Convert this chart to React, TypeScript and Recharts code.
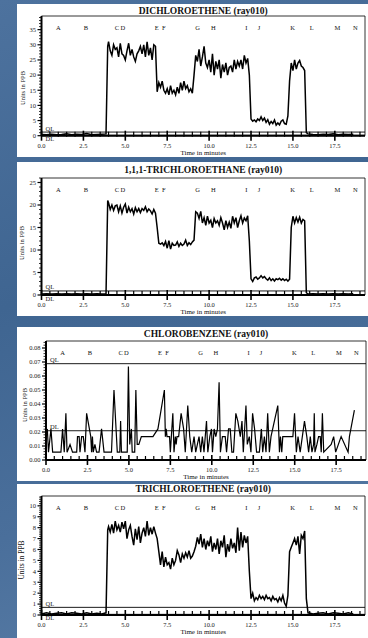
import { LineChart, Line, XAxis, YAxis, ReferenceLine, ReferenceArea } from 'recharts';

const serif = '"Liberation Serif", "DejaVu Serif", serif';

// shared scan times (minutes) for the three continuous traces
const scanTimes = [
  0, 0.3, 0.6, 0.9, 1.2, 1.5, 1.8, 2.1, 2.4, 2.7, 3.0, 3.3, 3.6, 3.85,
  3.95, 4.0, 4.1, 4.2, 4.3, 4.4, 4.5, 4.6, 4.7, 4.8, 4.9,
  5.0, 5.1, 5.2, 5.3, 5.4, 5.5, 5.6, 5.7, 5.8, 5.9,
  6.0, 6.1, 6.2, 6.3, 6.4, 6.5, 6.6, 6.7, 6.8, 6.9,
  7.0, 7.1, 7.2, 7.3, 7.4, 7.5, 7.6, 7.7, 7.8, 7.9,
  8.0, 8.1, 8.2, 8.3, 8.4, 8.5, 8.6, 8.7, 8.8, 8.9,
  9.0, 9.1, 9.2, 9.3, 9.4, 9.5, 9.6, 9.7, 9.8, 9.9,
  10.0, 10.1, 10.2, 10.3, 10.4, 10.5, 10.6, 10.7, 10.8, 10.9,
  11.0, 11.1, 11.2, 11.3, 11.4, 11.5, 11.6, 11.7, 11.8, 11.9,
  12.0, 12.1, 12.2, 12.3, 12.4, 12.5, 12.6, 12.7, 12.8, 12.9,
  13.0, 13.1, 13.2, 13.3, 13.4, 13.5, 13.6, 13.7, 13.8, 13.9,
  14.0, 14.1, 14.2, 14.3, 14.4, 14.5, 14.6, 14.7, 14.8, 14.9,
  15.0, 15.1, 15.2, 15.3, 15.4, 15.5, 15.6, 15.7, 15.8,
  15.9, 16.2, 16.5, 16.8, 17.1, 17.4, 17.7, 18.0, 18.3, 18.6,
];

const dceValues = [
  0.4, 0.3, 0.5, 0.3, 0.4, 0.6, 0.3, 0.5, 0.4, 0.7, 0.3, 0.4, 0.5, 0.6,
  29.5, 31, 28, 26.5, 30, 28.5, 29, 26, 30.5, 27, 26.5,
  25, 28, 30.5, 26.5, 28.5, 26, 24.5, 27, 28, 29.5,
  27, 30, 26, 31, 26.5, 29, 25, 30, 29.5, 14.5,
  17.5, 16, 18, 15, 14, 15.5, 13.5, 16.5, 14, 15,
  13.5, 16, 14, 17.5, 15, 18, 15.5, 16.5, 14.5, 15.5,
  14, 20, 26.5, 24.5, 28.5, 23, 26, 29.5, 24, 22.5,
  25, 21, 27, 20, 24.5, 22, 25, 19, 23.5, 21,
  24, 20, 22.5, 23, 21, 25, 22, 24.5, 23, 25,
  22, 26.5, 24, 25.5, 20, 5.5, 4.8, 5.2, 4.6, 5.5,
  5, 6.2, 5, 5.8, 4.4, 5.3, 3.8, 4.7, 4, 5.2,
  3.5, 4.2, 3.6, 4.8, 5.2, 4, 3.8, 6.5, 18, 24,
  21.5, 25, 22, 24, 24.8, 23, 22.5, 21.5, 1.0,
  0.6, 0.4, 0.3, 0.5, 0.4, 0.6, 0.3, 0.5, 0.4, 0.5,
];

const tcaValues = [
  0.2, 0.3, 0.2, 0.3, 0.2, 0.3, 0.2, 0.3, 0.2, 0.3, 0.2, 0.3, 0.2, 0.3,
  21, 20.5, 19, 20, 18.8, 19.8, 20, 18.5, 19.8, 18.2, 19.5,
  20.2, 18.2, 19.5, 18.5, 19.2, 18, 19.4, 18.5, 19.2, 18.3,
  19.2, 18.8, 19.6, 18.5, 19.1, 18.7, 18, 19, 18.2, 15,
  11.5, 11.3, 11.6, 11, 11.9, 10.4, 12.1, 10.2, 11.5, 11,
  11.1, 11.8, 10.8, 11.5, 11, 11.3, 12.2, 11, 11.6, 11.2,
  11.8, 12.2, 18.5, 18.2, 17, 18.6, 16, 17.2, 15.5, 17.5,
  16, 16.6, 15, 17, 16, 16.5, 15.5, 17.2, 16, 14.5,
  16.5, 15, 16.2, 14.8, 17.5, 16, 17.2, 15, 16.5, 17.6,
  16, 17.1, 16.5, 17.6, 12, 3.6, 3, 3.8, 4, 3.5,
  3.8, 4.3, 3.8, 4.1, 3.6, 3.3, 3.8, 3.2, 3.6, 3.1,
  3.6, 3.4, 3.7, 3.3, 3.6, 3.2, 3.5, 3.1, 3.5, 15,
  17.5, 16, 17.2, 16.2, 17.3, 16, 16.8, 16.5, 0.5,
  0.2, 0.3, 0.2, 0.3, 0.2, 0.3, 0.2, 0.3, 0.2, 0.3,
];

const tceValues = [
  0.1, 0.2, 0.1, 0.15, 0.2, 0.1, 0.2, 0.15, 0.1, 0.2, 0.1, 0.15, 0.1, 0.2,
  7.8, 8.1, 7.6, 8.3, 7.5, 8.6, 7.8, 8.2, 7.6, 8.5, 7.9,
  8.6, 7.0, 7.8, 8.2, 7.2, 6.4, 7.9, 6.9, 8.1, 6.6,
  7.5, 8.0, 7.2, 8.6, 7.3, 8.0, 7.4, 8.1, 7.5, 7.0,
  5.8, 4.6, 5.8, 4.4, 5.3, 4.6, 4.8, 4.2, 5.2, 4.6,
  5.0, 5.9, 5.5, 4.8, 5.6, 5.2, 5.7, 5.3, 5.9, 5.2,
  5.4, 5.8, 6.3, 7.1, 6.5, 7.4, 6.2, 7.0, 6.0, 6.8,
  6.3, 7.2, 5.8, 6.6, 6.0, 7.0, 5.6, 6.8, 6.2, 7.3,
  5.3, 6.5, 5.8, 7.0, 6.1, 6.6, 5.7, 8.0, 5.9, 7.6,
  6.2, 7.3, 6.6, 7.2, 4.0, 1.5, 2.0, 1.3, 1.6, 1.4,
  1.8, 1.5, 1.7, 1.4, 1.8, 1.5, 1.6, 1.3, 1.7, 1.4,
  1.5, 1.2, 1.6, 1.3, 1.8, 1.1, 0.8, 1.8, 5.8, 6.2,
  6.6, 7.0, 6.4, 7.2, 5.6, 7.3, 7.0, 7.7, 1.5,
  0.2, 0.1, 0.15, 0.2, 0.1, 0.2, 0.15, 0.1, 0.2, 0.1,
];

// chlorobenzene is sparse, so it keeps its own times
const cbTimes = [
  0.0, 0.08, 0.15, 0.3, 0.4, 0.9, 1.0, 1.1, 1.2, 1.27, 1.45, 1.6, 1.85, 1.9, 2.0, 2.05, 2.15, 2.25, 2.35, 2.45,
  2.7, 2.75, 2.8, 2.85, 2.95, 3.05, 3.2, 3.35, 3.5, 3.95, 4.1, 4.3, 4.45, 4.5, 4.55, 4.9, 4.97, 5.05, 5.15, 5.2,
  5.35, 5.42, 5.5, 5.6, 5.75, 6.45, 6.75, 7.14, 7.2, 7.25, 7.3, 7.45, 7.5, 7.65, 7.72, 7.8, 7.85, 7.9, 8.0, 8.15,
  8.3, 8.4, 8.55, 8.67, 8.79, 8.93, 9.03, 9.13, 9.23, 9.33, 9.43, 9.53, 9.68, 9.76, 9.88, 9.98, 10.04, 10.14, 10.24, 10.34,
  10.44, 10.52, 10.64, 10.81, 10.89, 11.01, 11.11, 11.21, 11.31, 11.45, 11.57, 11.72, 11.82, 11.9, 12.06, 12.14, 12.26, 12.36, 12.46, 12.58,
  12.7, 12.87, 12.99, 13.07, 13.17, 13.27, 13.37, 13.47, 13.57, 13.98, 14.08, 14.14, 14.22, 14.28, 14.89, 14.99, 15.1, 15.2, 15.33, 15.59,
  15.73, 15.84, 15.94, 16.04, 16.14, 16.18, 16.22, 16.34, 16.44, 16.54, 16.6, 16.67, 16.75, 17.2, 17.35, 17.47, 17.8, 18.22, 18.3, 18.6,
];

const cbValues = [
  0.0167, 0.0222, 0.0056, 0.0222, 0.0056, 0.0056, 0.0222, 0.0056, 0.0333, 0.0056, 0.0111, 0.0056, 0.0056, 0.0167, 0.0167, 0.0056, 0.0167, 0.0167, 0.0056, 0.0333,
  0.0167, 0.0056, 0.0167, 0.0056, 0.0111, 0.0056, 0.0056, 0.0222, 0.0056, 0.0056, 0.05, 0.0056, 0.0056, 0.0278, 0.0056, 0.0056, 0.0667, 0.0111, 0.0222, 0.0056,
  0.0056, 0.05, 0.0111, 0.0111, 0.0167, 0.0167, 0.0222, 0.05, 0.0167, 0.0222, 0.0167, 0.0167, 0.0056, 0.0333, 0.0056, 0.0167, 0.0111, 0.0167, 0.0167, 0.0333,
  0.0222, 0.0056, 0.0389, 0.0167, 0.0056, 0.0167, 0.0056, 0.0111, 0.0167, 0.0056, 0.0167, 0.0056, 0.0278, 0.0056, 0.0167, 0.0222, 0.0056, 0.0222, 0.0167, 0.0222,
  0.0556, 0.0056, 0.0167, 0.0167, 0.0056, 0.0222, 0.0222, 0.0056, 0.0056, 0.0333, 0.0278, 0.0167, 0.0278, 0.0056, 0.0389, 0.0111, 0.0167, 0.0056, 0.0333, 0.0222,
  0.0056, 0.0056, 0.0222, 0.0056, 0.0167, 0.0056, 0.0333, 0.0056, 0.0167, 0.0389, 0.0056, 0.0167, 0.0056, 0.0167, 0.0167, 0.0333, 0.0056, 0.0167, 0.0056, 0.0278,
  0.0167, 0.0056, 0.0167, 0.0056, 0.0111, 0.0333, 0.0056, 0.0111, 0.0167, 0.0167, 0.0056, 0.0333, 0.0056, 0.0111, 0.0167, 0.0056, 0.0167, 0.0056, 0.0167, 0.0356,
];

const eventNames = ['A', 'B', 'C', 'D', 'E', 'F', 'G', 'H', 'I', 'J', 'K', 'L', 'M', 'N'];
const eventTimes = [1.0, 2.65, 4.5, 4.85, 6.88, 7.3, 9.32, 10.25, 12.22, 12.97, 14.98, 16.12, 17.66, 18.72];

const timeTicks = [
  0, 0.5, 1, 1.5, 2, 2.5, 3, 3.5, 4, 4.5, 5, 5.5, 6, 6.5, 7, 7.5, 8, 8.5, 9, 9.5,
  10, 10.5, 11, 11.5, 12, 12.5, 13, 13.5, 14, 14.5, 15, 15.5, 16, 16.5, 17, 17.5, 18, 18.5, 19,
];
const timeMax = 19.3;

const steps = (to: number, step: number) =>
  Array.from({ length: Math.round(to / step) + 1 }, (_, i) => +(i * step).toFixed(4));
const onGrid = (v: number, g: number) => Math.abs(v / g - Math.round(v / g)) < 1e-6;

const BOX_LEFT = 17;
const BOX_W = 351;
const Y_AXIS_W = 22;
const X_AXIS_H = 12;

const panels = [
  {
    title: 'DICHLOROETHENE (ray010)',
    data: scanTimes.map((t, i) => ({ t, v: dceValues[i] })),
    box: { top: 4, bottom: 157 }, plot: { left: 41.5, right: 365, top: 16, bottom: 135.7 },
    titleY: 10.5, yLabel: { x: 23, y: 88, size: 6.5 },
    yMax: 39.5, yTicks: steps(39, 1), yMajor: 5, yFmt: (v: number) => String(v),
    ql: 1.2, dl: 0.15, dlAbove: false, width: 1.5,
  },
  {
    title: '1,1,1-TRICHLOROETHANE (ray010)',
    data: scanTimes.map((t, i) => ({ t, v: tcaValues[i] })),
    box: { top: 162, bottom: 316 }, plot: { left: 41.5, right: 365, top: 178, bottom: 295 },
    titleY: 170, yLabel: { x: 22, y: 243, size: 6.5 },
    yMax: 26, yTicks: steps(26, 1), yMajor: 5, yFmt: (v: number) => String(v),
    ql: 0.9, dl: 0.1, dlAbove: false, width: 1.5,
  },
  {
    title: 'CHLOROBENZENE (ray010)',
    data: cbTimes.map((t, i) => ({ t, v: cbValues[i] })),
    box: { top: 327, bottom: 481 }, plot: { left: 46, right: 366, top: 341, bottom: 460 },
    titleY: 334, yLabel: { x: 25, y: 405, size: 6.5 },
    yMax: 0.085, yTicks: steps(0.084, 0.002), yMajor: 0.01, yFmt: (v: number) => v.toFixed(2),
    ql: 0.0688, dl: 0.0209, dlAbove: true, width: 1.2,
  },
  {
    title: 'TRICHLOROETHENE (ray010)',
    data: scanTimes.map((t, i) => ({ t, v: tceValues[i] })),
    box: { top: 484, bottom: 638 }, plot: { left: 41.5, right: 365, top: 496, bottom: 615 },
    titleY: 489, yLabel: { x: 22, y: 560, size: 7.5 },
    yMax: 10.9, yTicks: steps(10.8, 0.2), yMajor: 1, yFmt: (v: number) => String(v),
    ql: 0.7, dl: 0.06, dlAbove: false, width: 1.5,
  },
];

const XTick = (props: any) => {
  const { x, y, payload } = props;
  const major = onGrid(payload.value, 2.5);
  return (
    <g>
      <line x1={x} x2={x} y1={y - (major ? 5 : 4)} y2={y + (major ? 5 : 1)} stroke="#000" strokeWidth={major ? 1.6 : 1.2} />
      {major && (
        <text x={x} y={y + 12} textAnchor="middle" fontSize={6.5} fontFamily={serif} fill="#222">
          {payload.value.toFixed(1)}
        </text>
      )}
    </g>
  );
};

const makeYTick = (majorStep: number, fmt: (v: number) => string) => (props: any) => {
  const { x, y, payload } = props;
  const major = onGrid(payload.value, majorStep);
  return (
    <g>
      <line x1={x - (major ? 4 : 2.5)} x2={x} y1={y} y2={y} stroke="#000" strokeWidth={major ? 1.2 : 0.8} />
      {major && (
        <text x={x - 5.5} y={y + 2.3} textAnchor="end" fontSize={6.5} fontFamily={serif} fill="#222">
          {fmt(payload.value)}
        </text>
      )}
    </g>
  );
};

function Panel({ p }: { p: (typeof panels)[number] }) {
  const H = p.box.bottom - p.box.top;
  const margin = {
    top: p.plot.top - p.box.top,
    right: BOX_LEFT + BOX_W - p.plot.right,
    bottom: p.box.bottom - p.plot.bottom - X_AXIS_H,
    left: p.plot.left - BOX_LEFT - Y_AXIS_W,
  };
  const plotW = p.plot.right - p.plot.left;
  const text = { position: 'absolute' as const, fontFamily: serif, color: '#111', whiteSpace: 'nowrap' as const };
  return (
    <div style={{ position: 'absolute', left: BOX_LEFT, top: p.box.top, width: BOX_W, height: H, background: '#fff' }}>
      <LineChart width={BOX_W} height={H} data={p.data} margin={margin}>
        <XAxis
          dataKey="t" type="number" domain={[0, timeMax]} ticks={timeTicks} interval={0}
          tickSize={0} tickMargin={0} tickLine={false} height={X_AXIS_H}
          axisLine={{ stroke: '#000', strokeWidth: 2 }} tick={<XTick />}
        />
        <YAxis
          type="number" domain={[0, p.yMax]} ticks={p.yTicks} interval={0}
          tickSize={0} tickMargin={0} tickLine={false} width={Y_AXIS_W}
          axisLine={{ stroke: '#000', strokeWidth: 2 }} tick={makeYTick(p.yMajor, p.yFmt)}
        />
        <ReferenceArea x1={0} x2={timeMax} y1={0} y2={p.yMax} fill="none" stroke="#000" strokeWidth={0.8} />
        {eventTimes.map((t, i) => (
          <ReferenceLine
            key={eventNames[i]} x={t} stroke="none"
            label={(lp: any) => (
              <text x={lp.viewBox.x} y={lp.viewBox.y + 13.5} textAnchor="middle" fontSize={6.5} fontFamily={serif} fill="#111">
                {eventNames[i]}
              </text>
            )}
          />
        ))}
        <ReferenceLine
          y={p.ql} stroke="#000" strokeWidth={0.9}
          label={(lp: any) => (
            <text x={lp.viewBox.x + 4} y={lp.viewBox.y - 1.5} fontSize={6.5} fontFamily={serif} fill="#222">QL</text>
          )}
        />
        <ReferenceLine
          y={p.dl} stroke="#000" strokeWidth={0.9}
          label={(lp: any) => (
            <text x={lp.viewBox.x + 4} y={p.dlAbove ? lp.viewBox.y - 1.5 : lp.viewBox.y + 6} fontSize={6.5} fontFamily={serif} fill="#222">DL</text>
          )}
        />
        <Line dataKey="v" type="linear" stroke="#000" strokeWidth={p.width} dot={false} isAnimationActive={false} />
      </LineChart>
      <div style={{ ...text, left: p.plot.left - BOX_LEFT, width: plotW, top: p.titleY - p.box.top - 6, height: 12, lineHeight: '12px', textAlign: 'center', fontWeight: 'bold', fontSize: 9.5 }}>
        {p.title}
      </div>
      <div style={{ ...text, left: p.plot.left - BOX_LEFT, width: plotW, top: p.plot.bottom - p.box.top + 12, height: 10, lineHeight: '10px', textAlign: 'center', fontSize: 7 }}>
        Time in minutes
      </div>
      <div style={{ ...text, left: p.yLabel.x - BOX_LEFT - 30, top: p.yLabel.y - p.box.top - 5, width: 60, height: 10, lineHeight: '10px', textAlign: 'center', fontSize: p.yLabel.size, transform: 'rotate(-90deg)' }}>
        Units in PPB
      </div>
    </div>
  );
}

export default function App() {
  return (
    <div
      style={{
        position: 'absolute', left: 0, top: 0, width: 368, height: 638, overflow: 'hidden',
        background: 'linear-gradient(160deg, #4d729e 0%, #3f6591 40%, #4a6f9b 70%, #5b7fa8 100%)',
      }}
    >
      {panels.map((p) => (
        <Panel key={p.title} p={p} />
      ))}
    </div>
  );
}
